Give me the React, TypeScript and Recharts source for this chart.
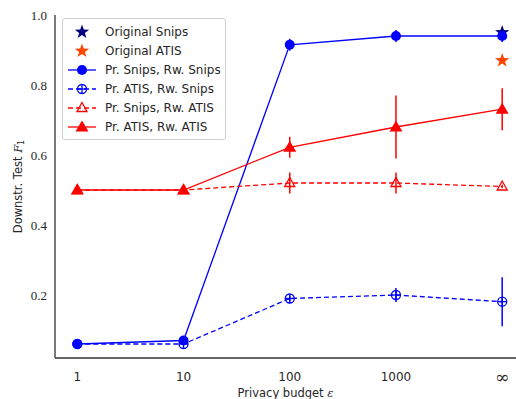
import React from 'react';
import { ComposedChart, Line, XAxis, YAxis, ErrorBar, Legend } from 'recharts';

const budgets = ['1', '10', '100', '1000', '\u221E'];
const origSnips = [null, null, null, null, 0.95];
const origAtis = [null, null, null, null, 0.87];
const snipsSnips = [0.06, 0.07, 0.915, 0.94, 0.94];
const snipsSnipsErr = [0.004, 0.004, 0.017, 0.017, 0.017];
const atisSnips = [0.06, 0.06, 0.19, 0.2, 0.181];
const atisSnipsErr = [0.004, 0.004, 0.008, 0.02, 0.07];
const snipsAtis = [0.5, 0.5, 0.52, 0.52, 0.51];
const snipsAtisErr = [0.003, 0.003, 0.03, 0.03, 0.005];
const atisAtis = [0.5, 0.5, 0.622, 0.68, 0.731];
const atisAtisErr = [0.003, 0.003, 0.03, 0.09, 0.06];
const yTicks = [0.2, 0.4, 0.6, 0.8, 1.0];

const data = budgets.map((b, i) => ({
  x: i,
  origSnips: origSnips[i],
  origAtis: origAtis[i],
  ss: snipsSnips[i],
  ssErr: snipsSnipsErr[i],
  as: atisSnips[i],
  asErr: atisSnipsErr[i],
  sa: snipsAtis[i],
  saErr: snipsAtisErr[i],
  aa: atisAtis[i],
  aaErr: atisAtisErr[i],
}));

const BLUE = '#0000ff';
const RED = '#ff0000';
const NAVY = '#00007f';
const ORANGE = '#ff4500';
const TEXT = '#262626';
const AXIS = '#333333';

const starPath = (cx: number, cy: number, R: number, r: number) => {
  let d = '';
  for (let k = 0; k < 10; k++) {
    const rad = k % 2 === 0 ? R : r;
    const a = -Math.PI / 2 + (k * Math.PI) / 5;
    d += (k === 0 ? 'M' : 'L') + (cx + rad * Math.cos(a)).toFixed(2) + ',' + (cy + rad * Math.sin(a)).toFixed(2);
  }
  return d + 'Z';
};

type Kind = 'star' | 'fcircle' | 'ocircle' | 'otri' | 'ftri';

const marker = (kind: Kind, color: string, cx: number, cy: number, key?: any) => {
  switch (kind) {
    case 'star':
      return <path key={key} d={starPath(cx, cy, 7.5, 3)} fill={color} stroke="none" />;
    case 'fcircle':
      return <circle key={key} cx={cx} cy={cy} r={5} fill={color} />;
    case 'ocircle':
      return (
        <g key={key}>
          <circle cx={cx} cy={cy} r={4.5} fill="none" stroke={color} strokeWidth={1.3} />
          <line x1={cx - 4.5} x2={cx + 4.5} y1={cy} y2={cy} stroke={color} strokeWidth={1.3} />
          <line x1={cx} x2={cx} y1={cy - 4.5} y2={cy + 4.5} stroke={color} strokeWidth={1.3} />
        </g>
      );
    case 'otri':
      return (
        <path key={key} d={`M${cx},${cy - 5.5}L${cx + 5},${cy + 3.5}L${cx - 5},${cy + 3.5}Z`} fill="none" stroke={color} strokeWidth={1.3} />
      );
    case 'ftri':
      return <path key={key} d={`M${cx},${cy - 6.5}L${cx + 6.5},${cy + 4.5}L${cx - 6.5},${cy + 4.5}Z`} fill={color} />;
  }
};

const makeDot = (kind: Kind, color: string) => (props: any) => {
  const { cx, cy, value, index } = props;
  if (cx == null || cy == null || value == null || Number.isNaN(cy)) return <g key={`e${index}`} />;
  return marker(kind, color, cx, cy, `d${index}`);
};

const legendItems: { name: string; kind: Kind; color: string; line: boolean; dash?: string }[] = [
  { name: 'Original Snips', kind: 'star', color: NAVY, line: false },
  { name: 'Original ATIS', kind: 'star', color: ORANGE, line: false },
  { name: 'Pr. Snips, Rw. Snips', kind: 'fcircle', color: BLUE, line: true },
  { name: 'Pr. ATIS, Rw. Snips', kind: 'ocircle', color: BLUE, line: true, dash: '5 3' },
  { name: 'Pr. Snips, Rw. ATIS', kind: 'otri', color: RED, line: true, dash: '5 3' },
  { name: 'Pr. ATIS, Rw. ATIS', kind: 'ftri', color: RED, line: true },
];

const LegendBox = () => (
  <div
    style={{
      border: '1px solid #d0d0d0',
      borderRadius: 3,
      background: '#fff',
      padding: '4px 6px 3px 4px',
      fontFamily: '"DejaVu Sans", sans-serif',
      fontSize: 12,
      color: TEXT,
      width: 152,
    }}
  >
    {legendItems.map((it, i) => (
      <div key={i} style={{ display: 'flex', alignItems: 'center', height: 18.9 }}>
        <svg width={38} height={18} style={{ flex: 'none' }}>
          {it.line && <line x1={1} x2={29} y1={9} y2={9} stroke={it.color} strokeWidth={1.3} strokeDasharray={it.dash} />}
          {marker(it.kind, it.color, 15, 9)}
        </svg>
        <span style={{ whiteSpace: 'nowrap' }}>{it.name}</span>
      </div>
    ))}
  </div>
);

const XTick = (props: any) => {
  const { x, y, payload } = props;
  const label = budgets[payload.value];
  const isInf = label === '\u221E';
  return (
    <text
      x={x}
      y={377}
      textAnchor="middle"
      dominantBaseline="central"
      fill={TEXT}
      fontSize={isInf ? 17 : 12}
      fontFamily={isInf ? '"DejaVu Serif", serif' : '"DejaVu Sans", sans-serif'}
    >
      {label}
    </text>
  );
};

const YLabel = (props: any) => {
  const vb = props.viewBox || { x: 0, y: 15, width: 55, height: 343 };
  const cx = 18;
  const cy = vb.y + vb.height / 2;
  return (
    <text
      x={cx}
      y={cy}
      transform={`rotate(-90 ${cx} ${cy})`}
      textAnchor="middle"
      dominantBaseline="central"
      fontFamily='"DejaVu Sans", sans-serif'
      fontSize={11.5}
      fill={TEXT}
    >
      Downstr. Test <tspan fontStyle="italic" fontFamily='"DejaVu Serif", serif'>F</tspan>
      <tspan fontSize={8} dy={3}>1</tspan>
    </text>
  );
};

const XLabel = (props: any) => {
  const vb = props.viewBox || { x: 55, y: 358, width: 461, height: 41 };
  return (
    <text
      x={vb.x + vb.width / 2}
      y={393}
      textAnchor="middle"
      dominantBaseline="central"
      fontFamily='"DejaVu Sans", sans-serif'
      fontSize={11.5}
      fill={TEXT}
    >
      Privacy budget <tspan fontStyle="italic" fontFamily='"DejaVu Serif", serif'>{'\u03B5'}</tspan>
    </text>
  );
};

export default function App() {
  return (
    <div style={{ position: 'absolute', left: 0, top: 0, width: 516, height: 399, background: '#fff' }}>
      <ComposedChart width={516} height={399} data={data} margin={{ top: 15, right: 0, left: 0, bottom: 0 }}>
        <XAxis
          dataKey="x"
          type="number"
          domain={[-0.21, 4.13]}
          ticks={[0, 1, 2, 3, 4]}
          allowDataOverflow
          height={41}
          tickLine={false}
          tickSize={0}
          tickMargin={13}
          axisLine={{ stroke: AXIS, strokeWidth: 1.3 }}
          tick={<XTick />}
          label={<XLabel />}
        />
        <YAxis
          type="number"
          domain={[0.02, 1.0]}
          ticks={yTicks}
          allowDataOverflow
          width={55}
          tickFormatter={(v: number) => v.toFixed(1)}
          tickLine={false}
          tickSize={0}
          tickMargin={8}
          axisLine={{ stroke: AXIS, strokeWidth: 1.3 }}
          tick={{ fill: TEXT, fontSize: 13, fontFamily: '"Liberation Serif", serif' }}
          label={<YLabel />}
        />
        <Legend
          layout="vertical"
          align="center"
          verticalAlign="middle"
          wrapperStyle={{ position: 'absolute', left: 62, top: 18, width: 'auto', height: 'auto' }}
          content={() => <LegendBox />}
        />
        <Line dataKey="origSnips" name="Original Snips" stroke="none" isAnimationActive={false} dot={makeDot('star', NAVY)} activeDot={false} legendType="none" />
        <Line dataKey="origAtis" name="Original ATIS" stroke="none" isAnimationActive={false} dot={makeDot('star', ORANGE)} activeDot={false} legendType="none" />
        <Line dataKey="ss" name="Pr. Snips, Rw. Snips" stroke={BLUE} strokeWidth={1.3} isAnimationActive={false} dot={makeDot('fcircle', BLUE)} activeDot={false}>
          <ErrorBar dataKey="ssErr" width={0} stroke={BLUE} strokeWidth={1.5} direction="y" />
        </Line>
        <Line dataKey="as" name="Pr. ATIS, Rw. Snips" stroke={BLUE} strokeWidth={1.3} strokeDasharray="5 3" isAnimationActive={false} dot={makeDot('ocircle', BLUE)} activeDot={false}>
          <ErrorBar dataKey="asErr" width={0} stroke={BLUE} strokeWidth={1.5} direction="y" />
        </Line>
        <Line dataKey="sa" name="Pr. Snips, Rw. ATIS" stroke={RED} strokeWidth={1.3} strokeDasharray="5 3" isAnimationActive={false} dot={makeDot('otri', RED)} activeDot={false}>
          <ErrorBar dataKey="saErr" width={0} stroke={RED} strokeWidth={1.5} direction="y" />
        </Line>
        <Line dataKey="aa" name="Pr. ATIS, Rw. ATIS" stroke={RED} strokeWidth={1.3} isAnimationActive={false} dot={makeDot('ftri', RED)} activeDot={false}>
          <ErrorBar dataKey="aaErr" width={0} stroke={RED} strokeWidth={1.5} direction="y" />
        </Line>
      </ComposedChart>
    </div>
  );
}
